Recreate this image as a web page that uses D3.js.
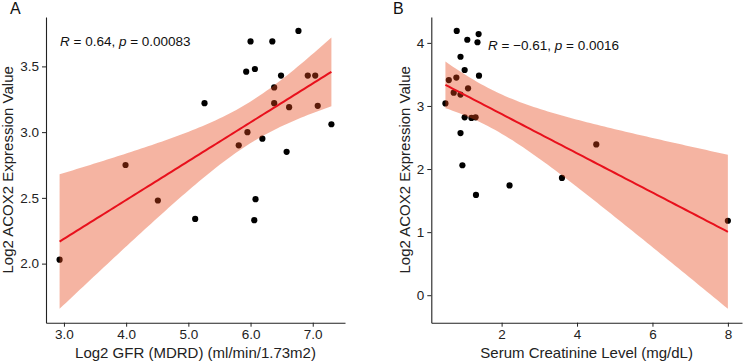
<!DOCTYPE html>
<html>
<head>
<meta charset="utf-8">
<script src="https://cdn.jsdelivr.net/npm/d3@7"></script>
<style>
  body { margin: 0; background: #fff; }
  svg { display: block; font-family: "Liberation Sans", Arial, sans-serif; }
</style>
</head>
<body>
<svg id="chart" width="744" height="362"></svg>
<script>
// Panel A: Log2 GFR vs Log2 ACOX2
const gfrX = [6.77, 6.00, 6.35, 5.93, 6.07, 6.49, 6.92, 7.04, 6.38, 5.26, 6.38, 6.62,
              7.08, 7.30, 5.95, 5.81, 6.19, 6.58, 3.99, 4.51, 5.11, 6.08, 6.06, 2.93];
const gfrY = [3.77, 3.69, 3.69, 3.46, 3.48, 3.43, 3.43, 3.43, 3.34, 3.22, 3.22, 3.19,
              3.20, 3.06, 3.00, 2.90, 2.95, 2.85, 2.75, 2.48, 2.34, 2.49, 2.33, 2.03];
// Panel B: Serum creatinine vs Log2 ACOX2
const creX = [0.81, 1.39, 1.09, 1.36, 0.91, 1.02, 1.40, 0.60, 0.80, 1.11, 0.73, 0.91,
              0.51, 1.02, 1.20, 1.31, 0.91, 0.96, 3.60, 4.51, 1.32, 2.21, 8.00];
const creY = [4.19, 4.14, 4.05, 4.01, 3.78, 3.57, 3.48, 3.41, 3.45, 3.28, 3.21, 3.18,
              3.04, 2.82, 2.81, 2.82, 2.57, 2.06, 1.86, 2.39, 1.59, 1.74, 1.18];

const ticksAX = [3, 4, 5, 6, 7];
const ticksAY = [2.0, 2.5, 3.0, 3.5];
const ticksBX = [2, 4, 6, 8];
const ticksBY = [0, 1, 2, 3, 4];

const yTitle = "Log2 ACOX2 Expression Value";

// t quantiles (0.975) for n-2 degrees of freedom
const tQ = { 21: 2.0796, 22: 2.0739 };

// linear fit + 95% confidence band, like geom_smooth(method = "lm")
function fitLm(xs, ys) {
  const n = xs.length;
  const mx = d3.mean(xs), my = d3.mean(ys);
  let sxx = 0, sxy = 0;
  xs.forEach((x, i) => { sxx += (x - mx) ** 2; sxy += (x - mx) * (ys[i] - my); });
  const b = sxy / sxx, a = my - b * mx;
  let sse = 0;
  xs.forEach((x, i) => { sse += (ys[i] - a - b * x) ** 2; });
  const s = Math.sqrt(sse / (n - 2));
  const t = tQ[n - 2];
  const [x0, x1] = d3.extent(xs);
  const band = d3.range(81).map(k => {
    const x = x0 + (x1 - x0) * k / 80;
    const fit = a + b * x;
    const se = s * Math.sqrt(1 / n + (x - mx) ** 2 / sxx);
    return { x, fit, lo: fit - t * se, hi: fit + t * se };
  });
  return band;
}

const svg = d3.select("#chart");

function panel(opt) {
  const { xs, ys, left, right, top, bottom, xTicks, yTicks, yFmt, xTitle, label, letter, lab } = opt;
  const band = fitLm(xs, ys);

  const xExt = d3.extent(xs);
  const yExt = d3.extent(ys.concat(band.map(d => d.lo), band.map(d => d.hi)));
  const xPad = (xExt[1] - xExt[0]) * 0.05, yPad = (yExt[1] - yExt[0]) * 0.05;

  const x = d3.scaleLinear().domain([xExt[0] - xPad, xExt[1] + xPad]).range([left, right]);
  const y = d3.scaleLinear().domain([yExt[0] - yPad, yExt[1] + yPad]).range([bottom, top]);

  const g = svg.append("g");

  // points (under the ribbon, as in ggpubr)
  g.append("g").selectAll("circle")
    .data(xs.map((v, i) => [v, ys[i]]))
    .join("circle")
    .attr("cx", d => x(d[0]))
    .attr("cy", d => y(d[1]))
    .attr("r", 3.1)
    .attr("fill", "#000");

  // confidence band
  g.append("path")
    .datum(band)
    .attr("fill", "rgb(230,68,22)")
    .attr("fill-opacity", 0.4)
    .attr("d", d3.area().x(d => x(d.x)).y0(d => y(d.lo)).y1(d => y(d.hi)));

  // regression line
  g.append("path")
    .datum(band)
    .attr("fill", "none")
    .attr("stroke", "#e8101c")
    .attr("stroke-width", 2)
    .attr("d", d3.line().x(d => x(d.x)).y(d => y(d.fit)));

  // axes
  const ax = g.append("g")
    .attr("transform", `translate(0,${bottom})`)
    .call(d3.axisBottom(x).tickValues(xTicks).tickSize(4).tickPadding(3).tickSizeOuter(0));
  const ay = g.append("g")
    .attr("transform", `translate(${left},0)`)
    .call(d3.axisLeft(y).tickValues(yTicks).tickFormat(d3.format(yFmt)).tickSize(4).tickPadding(3).tickSizeOuter(0));
  [ax, ay].forEach(a => {
    a.select(".domain").attr("stroke", "#222").attr("stroke-width", 1.1);
    a.selectAll(".tick line").attr("stroke", "#222");
    a.selectAll(".tick text").attr("fill", "#222").style("font-size", "13.5px");
  });

  g.append("text")
    .attr("x", (left + right) / 2)
    .attr("y", 358)
    .attr("text-anchor", "middle")
    .attr("fill", "#222")
    .style("font-size", "15px")
    .text(xTitle);

  g.append("text")
    .attr("transform", `translate(${opt.yTitleX},${(top + bottom) / 2}) rotate(-90)`)
    .attr("text-anchor", "middle")
    .attr("fill", "#222")
    .style("font-size", "15px")
    .text(yTitle);

  g.append("text")
    .attr("x", letter[0]).attr("y", letter[1])
    .attr("fill", "#111")
    .style("font-size", "16px")
    .text(opt.tag);

  // correlation annotation
  const t = g.append("text")
    .attr("x", lab[0]).attr("y", lab[1])
    .attr("fill", "#111")
    .style("font-size", "13.5px");
  label.forEach(part => {
    t.append("tspan").style("font-style", part.it ? "italic" : "normal").text(part.s);
  });
}

panel({
  xs: gfrX, ys: gfrY, left: 46, right: 345, top: 17, bottom: 322.7,
  xTicks: ticksAX, yTicks: ticksAY, yFmt: ".1f",
  xTitle: "Log2 GFR (MDRD) (ml/min/1.73m2)", yTitleX: 12.5,
  tag: "A", letter: [10, 14], lab: [60, 46],
  label: [{ s: "R", it: true }, { s: " = 0.64, " }, { s: "p", it: true }, { s: " = 0.00083" }]
});

panel({
  xs: creX, ys: creY, left: 431.3, right: 742, top: 17, bottom: 322.7,
  xTicks: ticksBX, yTicks: ticksBY, yFmt: "d",
  xTitle: "Serum Creatinine Level (mg/dL)", yTitleX: 409.5,
  tag: "B", letter: [393, 14], lab: [488, 50],
  label: [{ s: "R", it: true }, { s: " = \u22120.61, " }, { s: "p", it: true }, { s: " = 0.0016" }]
});
</script>
</body>
</html>
